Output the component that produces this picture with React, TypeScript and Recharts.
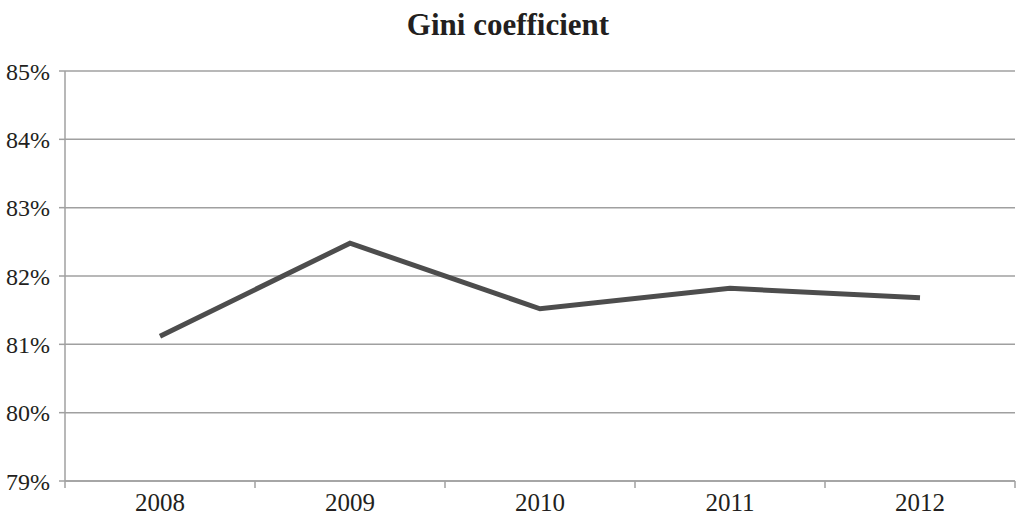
import React from 'react';
import { LineChart, Line, XAxis, YAxis, CartesianGrid } from 'recharts';

const years = ['2008', '2009', '2010', '2011', '2012'];
const gini = [81.12, 82.48, 81.52, 81.82, 81.68];
const yTicks = [79, 80, 81, 82, 83, 84, 85];

const data = years.map((year, i) => ({ x: i + 0.5, year, gini: gini[i] }));
const xTicks: number[] = [];
for (let i = 0; i <= years.length * 2; i++) xTicks.push(i / 2);

const FONT = '"Liberation Serif", "Times New Roman", serif';
const GRID = '#a0a0a0';
const TEXT = '#231f20';
const TICK_SIZE = 7;
const TICK_MARGIN = 5;

const XTick = (props: any) => {
  const { x, y, payload } = props;
  const v = payload.value as number;
  const axisY = y - TICK_SIZE - TICK_MARGIN;
  if (Number.isInteger(v)) {
    return <line x1={x} x2={x} y1={axisY} y2={axisY + TICK_SIZE} stroke={GRID} strokeWidth={1.5} />;
  }
  const label = years[Math.floor(v)];
  return (
    <text x={x} y={y} dy="0.71em" textAnchor="middle" fill={TEXT} fontFamily={FONT} fontSize={25}>
      {label}
    </text>
  );
};

export default function App() {
  return (
    <div style={{ position: 'absolute', left: 0, top: 0, width: 1016, height: 515, background: '#fff' }}>
      <div
        style={{
          position: 'absolute',
          left: 0,
          top: 9,
          width: 1016,
          textAlign: 'center',
          fontFamily: FONT,
          fontWeight: 'bold',
          fontSize: 31,
          lineHeight: '31px',
          color: TEXT,
        }}
      >
        Gini coefficient
      </div>
      <LineChart width={1016} height={515} data={data} margin={{ top: 71, right: 1, bottom: 0, left: 0 }}>
        <CartesianGrid vertical={false} stroke={GRID} strokeWidth={1.5} horizontalValues={yTicks} />
        <XAxis
          dataKey="x"
          type="number"
          domain={[0, years.length]}
          ticks={xTicks}
          interval={0}
          height={34}
          tickSize={TICK_SIZE}
          tickMargin={TICK_MARGIN}
          tickLine={false}
          axisLine={{ stroke: GRID, strokeWidth: 1.5 }}
          tick={<XTick />}
        />
        <YAxis
          type="number"
          domain={[79, 85]}
          ticks={yTicks}
          interval={0}
          width={65}
          tickSize={6}
          tickMargin={9}
          tickFormatter={(v: number) => `${v}%`}
          tick={{ fill: TEXT, fontFamily: FONT, fontSize: 24 }}
          tickLine={{ stroke: GRID, strokeWidth: 1.5 }}
          axisLine={{ stroke: GRID, strokeWidth: 1.5 }}
        />
        <Line
          type="linear"
          dataKey="gini"
          stroke="#4d4d4d"
          strokeWidth={5}
          strokeLinejoin="miter"
          strokeLinecap="butt"
          dot={false}
          activeDot={false}
          isAnimationActive={false}
        />
      </LineChart>
    </div>
  );
}
